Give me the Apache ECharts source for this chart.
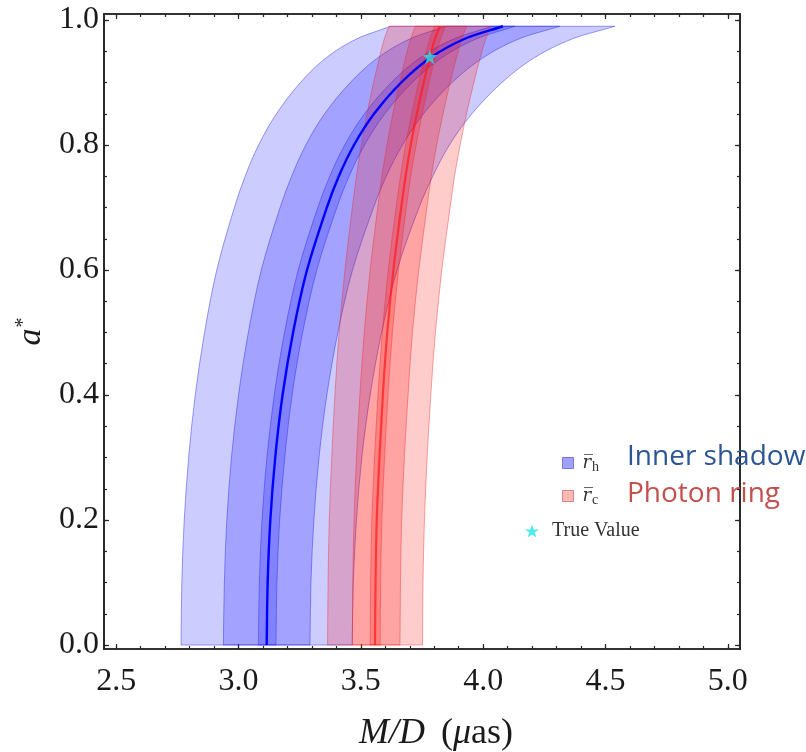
<!DOCTYPE html>
<html><head><meta charset="utf-8">
<script src="https://cdn.jsdelivr.net/npm/echarts@6/dist/echarts.min.js"></script>
<style>html,body{margin:0;padding:0;background:#fff}#c{width:806px;height:752px}</style>
</head><body><div id="c"></div>
<script>
// spin parameter a* (y) at which the curves are sampled
const spin = [0, 0.1, 0.2, 0.3, 0.4, 0.5, 0.6, 0.7, 0.75, 0.8, 0.85, 0.9, 0.94, 0.97, 0.99];

// Inner shadow (r̄h) band edges, M/D in μas
const shadowOuterLeft  = [2.765, 2.768, 2.778, 2.796, 2.823, 2.861, 2.911, 2.983, 3.027, 3.082, 3.155, 3.253, 3.360, 3.484, 3.622];
const shadowMidLeft    = [2.938, 2.942, 2.952, 2.971, 3.000, 3.040, 3.093, 3.170, 3.217, 3.275, 3.352, 3.457, 3.571, 3.702, 3.849];
const shadowInnerLeft  = [3.081, 3.085, 3.096, 3.116, 3.146, 3.188, 3.244, 3.324, 3.373, 3.434, 3.515, 3.625, 3.744, 3.882, 4.036];
const shadowCenter     = [3.115, 3.119, 3.130, 3.150, 3.180, 3.223, 3.280, 3.361, 3.410, 3.472, 3.554, 3.665, 3.786, 3.925, 4.081];
const shadowInnerRight = [3.153, 3.157, 3.168, 3.189, 3.219, 3.262, 3.320, 3.402, 3.452, 3.515, 3.598, 3.710, 3.832, 3.973, 4.130];
const shadowMidRight   = [3.292, 3.296, 3.308, 3.329, 3.361, 3.406, 3.466, 3.552, 3.604, 3.670, 3.756, 3.873, 4.001, 4.148, 4.313];
const shadowOuterRight = [3.465, 3.469, 3.482, 3.504, 3.538, 3.585, 3.648, 3.738, 3.794, 3.862, 3.954, 4.077, 4.211, 4.366, 4.539];

// Photon ring (r̄c) band edges
const ringOuterLeft  = [3.364, 3.366, 3.371, 3.381, 3.394, 3.411, 3.435, 3.465, 3.482, 3.502, 3.525, 3.552, 3.576, 3.596, 3.615];
const ringMidLeft    = [3.465, 3.467, 3.472, 3.482, 3.496, 3.514, 3.538, 3.569, 3.586, 3.607, 3.631, 3.659, 3.683, 3.704, 3.723];
const ringInnerLeft  = [3.538, 3.540, 3.545, 3.556, 3.570, 3.588, 3.612, 3.644, 3.662, 3.683, 3.708, 3.736, 3.761, 3.782, 3.802];
const ringCenter     = [3.558, 3.560, 3.565, 3.576, 3.590, 3.608, 3.633, 3.665, 3.683, 3.704, 3.729, 3.757, 3.782, 3.803, 3.823];
const ringInnerRight = [3.579, 3.581, 3.586, 3.597, 3.611, 3.629, 3.654, 3.686, 3.704, 3.726, 3.751, 3.779, 3.804, 3.826, 3.846];
const ringMidRight   = [3.660, 3.662, 3.667, 3.678, 3.693, 3.711, 3.737, 3.770, 3.788, 3.810, 3.836, 3.865, 3.891, 3.913, 3.933];
const ringOuterRight = [3.752, 3.754, 3.760, 3.771, 3.786, 3.805, 3.831, 3.865, 3.883, 3.906, 3.932, 3.962, 3.988, 4.011, 4.032];

// True value marker
const trueValue = [3.782, 0.941];

// Ticks
const xMajorTicks = [2.5, 3.0, 3.5, 4.0, 4.5, 5.0];
const xMinorTicks = [2.5, 2.6, 2.7, 2.8, 2.9, 3.0, 3.1, 3.2, 3.3, 3.4, 3.5, 3.6, 3.7, 3.8, 3.9, 4.0, 4.1, 4.2, 4.3, 4.4, 4.5, 4.6, 4.7, 4.8, 4.9, 5.0];
const yMajorTicks = [0.0, 0.2, 0.4, 0.6, 0.8, 1.0];
const yMinorTicks = [0.0, 0.05, 0.1, 0.15, 0.2, 0.25, 0.3, 0.35, 0.4, 0.45, 0.5, 0.55, 0.6, 0.65, 0.7, 0.75, 0.8, 0.85, 0.9, 0.95, 1.0];

const X_MIN = 2.45, X_MAX = 5.05, Y_MIN = -0.0064, Y_MAX = 1.0096;
const SERIF = "'Liberation Serif', 'DejaVu Serif', serif";
const AXIS_COLOR = '#262626';

// Cubic Hermite spline tangents through pixel points p (parameterised by spin)
function tangents(p) {
  const n = p.length, t = spin, m = [];
  for (let i = 0; i < n; i++) {
    const i0 = Math.max(0, i - 1), i1 = Math.min(n - 1, i + 1);
    const dt = t[i1] - t[i0];
    m.push([(p[i1][0] - p[i0][0]) / dt, (p[i1][1] - p[i0][1]) / dt]);
  }
  return m;
}
function f(v) { return v[0].toFixed(2) + ',' + v[1].toFixed(2); }
function splineSegs(p) {
  const m = tangents(p), t = spin;
  let d = '';
  for (let i = 0; i < p.length - 1; i++) {
    const h = (t[i + 1] - t[i]) / 3;
    d += ' C' + f([p[i][0] + m[i][0] * h, p[i][1] + m[i][1] * h]) + ' ' +
      f([p[i + 1][0] - m[i + 1][0] * h, p[i + 1][1] - m[i + 1][1] * h]) + ' ' + f(p[i + 1]);
  }
  return d;
}
function reverseSegs(p) {
  const m = tangents(p), t = spin;
  let d = '';
  for (let i = p.length - 1; i > 0; i--) {
    const h = (t[i] - t[i - 1]) / 3;
    d += ' C' + f([p[i][0] - m[i][0] * h, p[i][1] - m[i][1] * h]) + ' ' +
      f([p[i - 1][0] + m[i - 1][0] * h, p[i - 1][1] + m[i - 1][1] * h]) + ' ' + f(p[i - 1]);
  }
  return d;
}
function band(name, L, R, fill, stroke, z) {
  return {
    type: 'custom', name: name, coordinateSystem: 'cartesian2d', silent: true, z: z,
    itemStyle: { color: fill },
    data: [[L[0], spin[0]]],
    renderItem: function (params, api) {
      const left = spin.map((a, i) => api.coord([L[i], a]));
      const right = spin.map((a, i) => api.coord([R[i], a]));
      const n = spin.length;
      const d = 'M' + f(left[0]) + splineSegs(left) + ' L' + f(right[n - 1]) + reverseSegs(right) + ' Z';
      return { type: 'path', shape: { pathData: d }, style: { fill: fill, stroke: stroke, lineWidth: 0.9 } };
    }
  };
}
function centerLine(name, X, color, w, z) {
  return {
    type: 'custom', name: name, coordinateSystem: 'cartesian2d', silent: true, z: z,
    itemStyle: { color: color },
    data: [[X[0], spin[0]]],
    renderItem: function (params, api) {
      const pts = spin.map((a, i) => api.coord([X[i], a]));
      const d = 'M' + f(pts[0]) + splineSegs(pts);
      return { type: 'path', shape: { pathData: d }, style: { fill: null, stroke: color, lineWidth: w } };
    }
  };
}
function xAx(pos, ticks, len, labels) {
  const a = {
    type: 'value', position: pos, min: X_MIN, max: X_MAX, gridIndex: 0,
    axisLine: { show: true, onZero: false, lineStyle: { color: AXIS_COLOR, width: 1.7 } },
    axisTick: { show: true, inside: true, length: len, customValues: ticks, lineStyle: { color: AXIS_COLOR, width: 1.2 } },
    splitLine: { show: false },
    axisLabel: { show: false }
  };
  if (labels) {
    a.axisLabel = { show: true, customValues: labels, margin: 17, fontFamily: SERIF, fontSize: 32, color: '#1a1a1a',
      formatter: v => v.toFixed(1) };
    a.name = '{i|M/D}{g| }{n|(}{m|μ}{n|as)}';
    a.nameLocation = 'middle';
    a.nameGap = 67;
    a.nameTextStyle = { padding: [0, 0, 0, 28], rich: {
      i: { fontFamily: SERIF, fontStyle: 'italic', fontSize: 36, color: '#1a1a1a' },
      m: { fontFamily: SERIF, fontStyle: 'italic', fontSize: 36, color: '#1a1a1a' },
      g: { fontFamily: SERIF, fontSize: 36, width: 16 },
      n: { fontFamily: SERIF, fontSize: 36, color: '#1a1a1a' } } };
  }
  return a;
}
function yAx(pos, ticks, len, labels) {
  const a = {
    type: 'value', position: pos, min: Y_MIN, max: Y_MAX, gridIndex: 0,
    axisLine: { show: true, onZero: false, lineStyle: { color: AXIS_COLOR, width: 1.7 } },
    axisTick: { show: true, inside: true, length: len, customValues: ticks, lineStyle: { color: AXIS_COLOR, width: 1.2 } },
    splitLine: { show: false },
    axisLabel: { show: false }
  };
  if (labels) {
    a.axisLabel = { show: true, customValues: labels, margin: 5, fontFamily: SERIF, fontSize: 32, color: '#1a1a1a',
      formatter: v => v.toFixed(1) };
    a.name = '{i|a}{s|*}';
    a.nameLocation = 'middle';
    a.nameRotate = 90;
    a.nameGap = 56;
    a.nameTextStyle = { rich: {
      i: { fontFamily: SERIF, fontStyle: 'italic', fontSize: 34, color: '#1a1a1a' },
      s: { fontFamily: SERIF, fontSize: 20, color: '#1a1a1a', padding: [0, 0, 14, 1] } } };
  }
  return a;
}

const starPath = 'path://M50,2 L61.8,36.4 L97.6,36.4 L68.6,57.6 L79.6,92 L50,70.8 L20.4,92 L31.4,57.6 L2.4,36.4 L38.2,36.4 Z';
const BLUE_FILL = 'rgba(0,0,255,0.2)', BLUE_STROKE = 'rgba(40,40,230,0.5)';
const RED_FILL = 'rgba(255,0,0,0.2)', RED_STROKE = 'rgba(230,40,40,0.45)';

const chart = echarts.init(document.getElementById('c'), null, { renderer: 'canvas' });
chart.setOption({
  animation: false,
  backgroundColor: '#fff',
  grid: { left: 104, right: 66, top: 14, bottom: 103, containLabel: false, outerBoundsMode: 'none' },
  xAxis: [
    xAx('bottom', xMinorTicks, 3, xMajorTicks),
    xAx('bottom', xMajorTicks, 5, null),
    xAx('top', xMinorTicks, 3, null),
    xAx('top', xMajorTicks, 5, null)
  ],
  yAxis: [
    yAx('left', yMinorTicks, 3, yMajorTicks),
    yAx('left', yMajorTicks, 5, null),
    yAx('right', yMinorTicks, 3, null),
    yAx('right', yMajorTicks, 5, null)
  ],
  legend: [
    {
      orient: 'vertical', left: 557, top: 447, itemWidth: 11, itemHeight: 11, itemGap: 11,
      selectedMode: false,
      data: [
        { name: 'rh', icon: 'rect', itemStyle: { color: 'rgba(160,160,255,1)', borderColor: 'rgba(120,120,220,1)', borderWidth: 1 } },
        { name: 'rc', icon: 'rect', itemStyle: { color: 'rgba(255,185,185,1)', borderColor: 'rgba(220,130,130,1)', borderWidth: 1 } }
      ],
      formatter: n => n === 'rh' ? '{r|r\u0305}{s|h}' : '{r|r\u0305}{s|c}',
      textStyle: { rich: {
        r: { fontFamily: "'DejaVu Serif', serif", fontStyle: 'italic', fontSize: 18, color: '#333', lineHeight: 22, padding: [0, 0, 0, 4] },
        s: { fontFamily: SERIF, fontSize: 14, color: '#333', lineHeight: 22, padding: [8, 0, 0, 1] } } }
    },
    {
      orient: 'vertical', left: 520, top: 516, itemWidth: 14, itemHeight: 14,
      selectedMode: false,
      data: [{ name: 'True Value', icon: starPath, itemStyle: { color: '#22e6e6' } }],
      formatter: n => '{t|' + n + '}',
      textStyle: { rich: { t: { fontFamily: SERIF, fontSize: 20, color: '#333', padding: [0, 0, 0, 8] } } }
    }
  ],
  graphic: [
    { type: 'text', left: 627, top: 443, z: 100, style: { text: 'Inner shadow', font: "28px 'Open Sans', 'Noto Sans', sans-serif", fill: '#2b5595' } },
    { type: 'text', left: 627, top: 480, z: 100, style: { text: 'Photon ring', font: "28px 'Open Sans', 'Noto Sans', sans-serif", fill: '#c4504d' } }
  ],
  series: [
    band('rh', shadowOuterLeft, shadowOuterRight, BLUE_FILL, BLUE_STROKE, 2),
    band('rh', shadowMidLeft, shadowMidRight, BLUE_FILL, BLUE_STROKE, 2),
    band('rh', shadowInnerLeft, shadowInnerRight, BLUE_FILL, BLUE_STROKE, 2),
    band('rc', ringOuterLeft, ringOuterRight, RED_FILL, RED_STROKE, 3),
    band('rc', ringMidLeft, ringMidRight, RED_FILL, RED_STROKE, 3),
    band('rc', ringInnerLeft, ringInnerRight, RED_FILL, RED_STROKE, 3),
    centerLine('rh', shadowCenter, '#0000ff', 2.4, 4),
    centerLine('rc', ringCenter, 'rgba(255,30,30,0.75)', 2.2, 4),
    {
      type: 'scatter', name: 'True Value', silent: true, z: 6,
      symbol: starPath, symbolSize: 15, itemStyle: { color: '#22e6e6' },
      data: [trueValue]
    }
  ]
});
</script>
</body></html>
